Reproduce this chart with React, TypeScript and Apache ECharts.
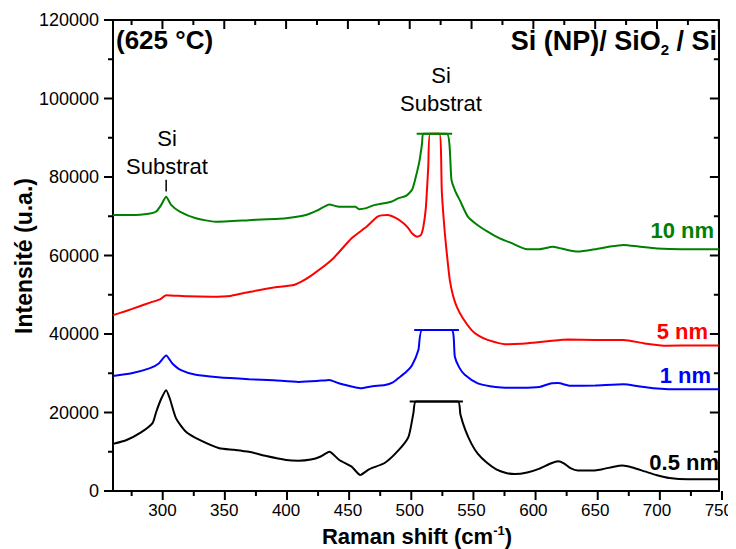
import React, { useEffect, useRef } from "react";
import * as echarts from "echarts";

const FONT = "Arial, 'Liberation Sans', sans-serif";

const xMajorTicks = [300, 350, 400, 450, 500, 550, 600, 650, 700, 750];
const xMinorTicks = [275, 325, 375, 425, 475, 525, 575, 625, 675, 725];
const yMajorTicks = [0, 20000, 40000, 60000, 80000, 100000, 120000];
const yMinorTicks = [10000, 30000, 50000, 70000, 90000, 110000];

const s05nm: number[][] = [
  [260, 12000], [271, 13000], [282, 14800], [292, 17300], [295, 20200], [299, 23500], [303, 25700],
  [306, 23500], [311, 18500], [319, 15100], [330, 13000], [346, 10900], [358, 10500], [370, 10000],
  [384, 8900], [400, 7900], [410, 7700], [420, 8000], [428, 8800], [435, 10000], [443, 7900],
  [453, 6200], [460, 4100], [467, 5500], [480, 7200], [491, 10400], [499, 13800], [503, 19900],
  [505, 22800], [539, 22800], [541, 19500], [545, 15500], [550, 12000], [555, 9500], [562, 7300],
  [570, 5500], [578, 4600], [585, 4300], [595, 4700], [605, 5700], [614, 7000], [620, 7600],
  [625, 7000], [630, 5800], [636, 5200], [645, 5200], [655, 5500], [665, 6200], [672, 6500],
  [680, 6000], [690, 5000], [700, 4000], [710, 3300], [725, 3000], [750, 3000],
];
const s1nm: number[][] = [
  [260, 29300], [275, 30000], [290, 31300], [297, 32500], [303, 34500], [308, 32500], [315, 30800],
  [327, 29600], [345, 29000], [370, 28500], [390, 28200], [410, 27800], [425, 28000], [435, 28300],
  [442, 27500], [452, 26700], [460, 26200], [470, 26700], [480, 27000], [486, 27600], [491, 28800],
  [497, 30300], [502, 32100], [507, 35900], [510, 41000], [533.8, 41000], [536.5, 34200], [540, 31500],
  [544.5, 29600], [555, 27400], [565, 26700], [574, 26400], [590, 26300], [605, 26500], [614, 27400],
  [620, 27500], [630, 26800], [650, 26900], [673, 27200], [685, 26700], [697, 26200], [720, 25900],
  [750, 25900],
];
const s5nm: number[][] = [
  [260, 44800], [270, 45800], [281, 47000], [290, 48000], [298, 48800], [303, 49900], [320, 49600],
  [340, 49500], [355, 49700], [370, 50700], [389, 51800], [405, 52400], [412, 53300], [420, 54800],
  [437, 58900], [453, 64400], [465, 67300], [474, 69900], [482, 70300], [489, 69500], [495, 68200],
  [499, 66900], [502, 65600], [506, 64800], [509, 65200], [511, 67300], [513, 72000], [515, 82600],
  [516.5, 91000], [524, 91000], [526, 76000], [528.4, 65700], [530.5, 59000], [532.4, 53800],
  [535, 49800], [538, 47000], [543, 44000], [550, 41000], [556, 39500], [563, 38500], [577, 37400],
  [590, 37500], [600, 37800], [615, 38300], [628, 38600], [650, 38500], [673, 38500], [690, 37600],
  [708, 37000], [730, 37100], [750, 37100],
];
const s10nm: number[][] = [
  [260, 70300], [275, 70300], [290, 70700], [295, 71200], [299, 72900], [303, 75000], [307, 72900],
  [314, 71200], [327, 69500], [343, 68600], [370, 69000], [400, 69500], [416, 70300], [426, 71600],
  [435, 73000], [443, 72400], [456, 72400], [459, 71800], [464, 72000], [472, 72900], [485, 73700],
  [491, 74600], [497, 75200], [502, 76800], [505, 80100], [508, 84300], [510, 88600], [511, 91000],
  [530, 91000], [533.8, 79200], [537, 76300], [540.5, 74100], [547, 69900], [555, 67700], [563, 66100],
  [572, 64500], [582, 63200], [595, 61600], [605, 61600], [615.6, 62200], [620, 62000], [627.6, 61400],
  [636, 61000], [650, 61600], [662, 62300], [673, 62700], [685, 62300], [700, 61800], [720, 61600],
  [750, 61600],
];

const cap05nm: number[][] = [[500, 22800], [543, 22800]];
const cap1nm: number[][] = [[503.6, 41000], [539.8, 41000]];
const cap10nm: number[][] = [[505.6, 91000], [534.3, 91000]];
const markerSi: number[][] = [[303, 76300], [303, 79300]];

const X_MIN = 260;
const X_MAX = 750;
const Y_MIN = 0;
const Y_MAX = 120000;

export default function App() {
  const ref = useRef<HTMLDivElement>(null);
  useEffect(() => {
    if (!ref.current) return;
    const chart = echarts.init(ref.current, undefined, { renderer: "svg" });
    const grid = { left: 113, right: 14, top: 20, bottom: 58 };
    const plotW = 736 - grid.left - grid.right;
    const plotH = 549 - grid.top - grid.bottom;
    const xPerPx = (X_MAX - X_MIN) / plotW;
    const yPerPx = (Y_MAX - Y_MIN) / plotH;
    const TICK_BAND = 9;

    const line = (data: number[][], color: string, width = 2, smooth: number | boolean = false, xi = 0, yi = 0) => ({
      type: "line",
      data,
      xAxisIndex: xi,
      yAxisIndex: yi,
      showSymbol: false,
      symbol: "none",
      smooth,
      lineStyle: { color, width, cap: "butt" },
      itemStyle: { color },
      silent: true,
      z: 2,
    });

    const tickSeries: any[] = [];
    const addX = (v: number, lenPx: number) => {
      // top (inside, main grid)
      tickSeries.push(line([[v, Y_MAX], [v, Y_MAX - lenPx * yPerPx]], "#000", 2, false, 0, 0));
      // bottom (outside, in the bottom tick band grid)
      tickSeries.push(line([[v, TICK_BAND], [v, TICK_BAND - lenPx]], "#000", 2, false, 2, 2));
    };
    const addY = (v: number, lenPx: number) => {
      // right (inside, main grid)
      tickSeries.push(line([[X_MAX - lenPx * xPerPx, v], [X_MAX, v]], "#000", 2, false, 0, 0));
      // left (outside, in the left tick band grid)
      tickSeries.push(line([[TICK_BAND - lenPx, v], [TICK_BAND, v]], "#000", 2, false, 1, 1));
    };
    xMajorTicks.forEach((v) => addX(v, 9));
    xMinorTicks.forEach((v) => addX(v, 5));
    yMajorTicks.forEach((v) => addY(v, 9));
    yMinorTicks.forEach((v) => addY(v, 5));

    const axisLine = { show: true, onZero: false, lineStyle: { color: "#000", width: 2 } };
    const hidden = { show: false };
    const bare = { axisLine: hidden, axisTick: hidden, axisLabel: hidden, splitLine: hidden };
    chart.setOption({
      animation: false,
      backgroundColor: "#fff",
      grid: [
        { ...grid, containLabel: false },
        { left: grid.left - TICK_BAND, width: TICK_BAND, top: grid.top - 2, height: plotH + 4, containLabel: false },
        { left: grid.left - 2, width: plotW + 4, top: grid.top + plotH, height: TICK_BAND, containLabel: false },
      ],
      xAxis: [
        {
          type: "value", gridIndex: 0, position: "bottom", min: X_MIN, max: X_MAX,
          axisLine,
          axisTick: hidden,
          axisLabel: { customValues: xMajorTicks, fontSize: 17, color: "#000", fontFamily: FONT, margin: 11 },
          splitLine: hidden,
        },
        { type: "value", gridIndex: 1, min: 0, max: TICK_BAND, ...bare },
        { type: "value", gridIndex: 2, min: X_MIN - 2 * xPerPx, max: X_MAX + 2 * xPerPx, ...bare },
        {
          type: "value", gridIndex: 0, position: "top", min: X_MIN, max: X_MAX,
          axisLine,
          axisTick: hidden,
          axisLabel: hidden,
          splitLine: hidden,
        },
      ],
      yAxis: [
        {
          type: "value", gridIndex: 0, position: "left", min: Y_MIN, max: Y_MAX, interval: 20000,
          axisLine,
          axisTick: hidden,
          axisLabel: { fontSize: 18, color: "#000", fontFamily: FONT, margin: 14, formatter: (v: number) => String(v) },
          splitLine: hidden,
        },
        { type: "value", gridIndex: 1, min: Y_MIN - 2 * yPerPx, max: Y_MAX + 2 * yPerPx, ...bare },
        { type: "value", gridIndex: 2, min: 0, max: TICK_BAND, ...bare },
        {
          type: "value", gridIndex: 0, position: "right", min: Y_MIN, max: Y_MAX, interval: 20000,
          axisLine,
          axisTick: hidden,
          axisLabel: hidden,
          splitLine: hidden,
        },
      ],
      series: [
        line(s05nm, "#000000", 2, 0.2),
        line(cap05nm, "#000000"),
        line(s1nm, "#0000ff", 2, 0.2),
        line(cap1nm, "#0000ff"),
        line(s5nm, "#ff0000", 2, 0.2),
        line(s10nm, "#008000", 2, 0.2),
        line(cap10nm, "#008000"),
        line(markerSi, "#000000", 1.5),
        ...tickSeries,
      ],
      graphic: [
        { type: "text", x: 116, y: 40, style: { text: "(625 °C)", font: `bold 26px ${FONT}`, fill: "#000", align: "left", verticalAlign: "middle" } },
        {
          type: "text", x: 717, y: 41,
          style: {
            text: "{b|Si (NP)/ SiO}{s|2}{b| / Si}",
            align: "right", verticalAlign: "middle",
            rich: {
              b: { font: `bold 27px ${FONT}`, fill: "#000" },
              s: { font: `bold 15px ${FONT}`, fill: "#000", padding: [16, 0, 0, 0] },
            },
          },
        },
        { type: "text", x: 167, y: 152, style: { text: "Si\nSubstrat", font: `22px ${FONT}`, lineHeight: 28, fill: "#000", align: "center", verticalAlign: "middle" } },
        { type: "text", x: 441, y: 89, style: { text: "Si\nSubstrat", font: `22px ${FONT}`, lineHeight: 28, fill: "#000", align: "center", verticalAlign: "middle" } },
        { type: "text", x: 714, y: 230, style: { text: "10 nm", font: `bold 22px ${FONT}`, fill: "#008000", align: "right", verticalAlign: "middle" } },
        { type: "text", x: 708, y: 331, style: { text: "5 nm", font: `bold 22px ${FONT}`, fill: "#ff0000", align: "right", verticalAlign: "middle" } },
        { type: "text", x: 711, y: 375, style: { text: "1 nm", font: `bold 22px ${FONT}`, fill: "#0000ff", align: "right", verticalAlign: "middle" } },
        { type: "text", x: 719, y: 462, style: { text: "0.5 nm", font: `bold 22px ${FONT}`, fill: "#000", align: "right", verticalAlign: "middle" } },
        {
          type: "text", x: 417, y: 536,
          style: {
            text: "{b|Raman shift (cm}{s|-1}{b|)}",
            align: "center", verticalAlign: "middle",
            rich: {
              b: { font: `bold 22px ${FONT}`, fill: "#000" },
              s: { font: `bold 13px ${FONT}`, fill: "#000", padding: [0, 0, 12, 0] },
            },
          },
        },
        {
          type: "text", x: 24, y: 256, rotation: Math.PI / 2,
          style: { text: "Intensité (u.a.)", font: `bold 23px ${FONT}`, fill: "#000", align: "center", verticalAlign: "middle" },
        },
      ],
    });
    return () => chart.dispose();
  }, []);
  return <div ref={ref} style={{ width: 736, height: 549, marginLeft: -8, marginTop: -8 }} />;
}
